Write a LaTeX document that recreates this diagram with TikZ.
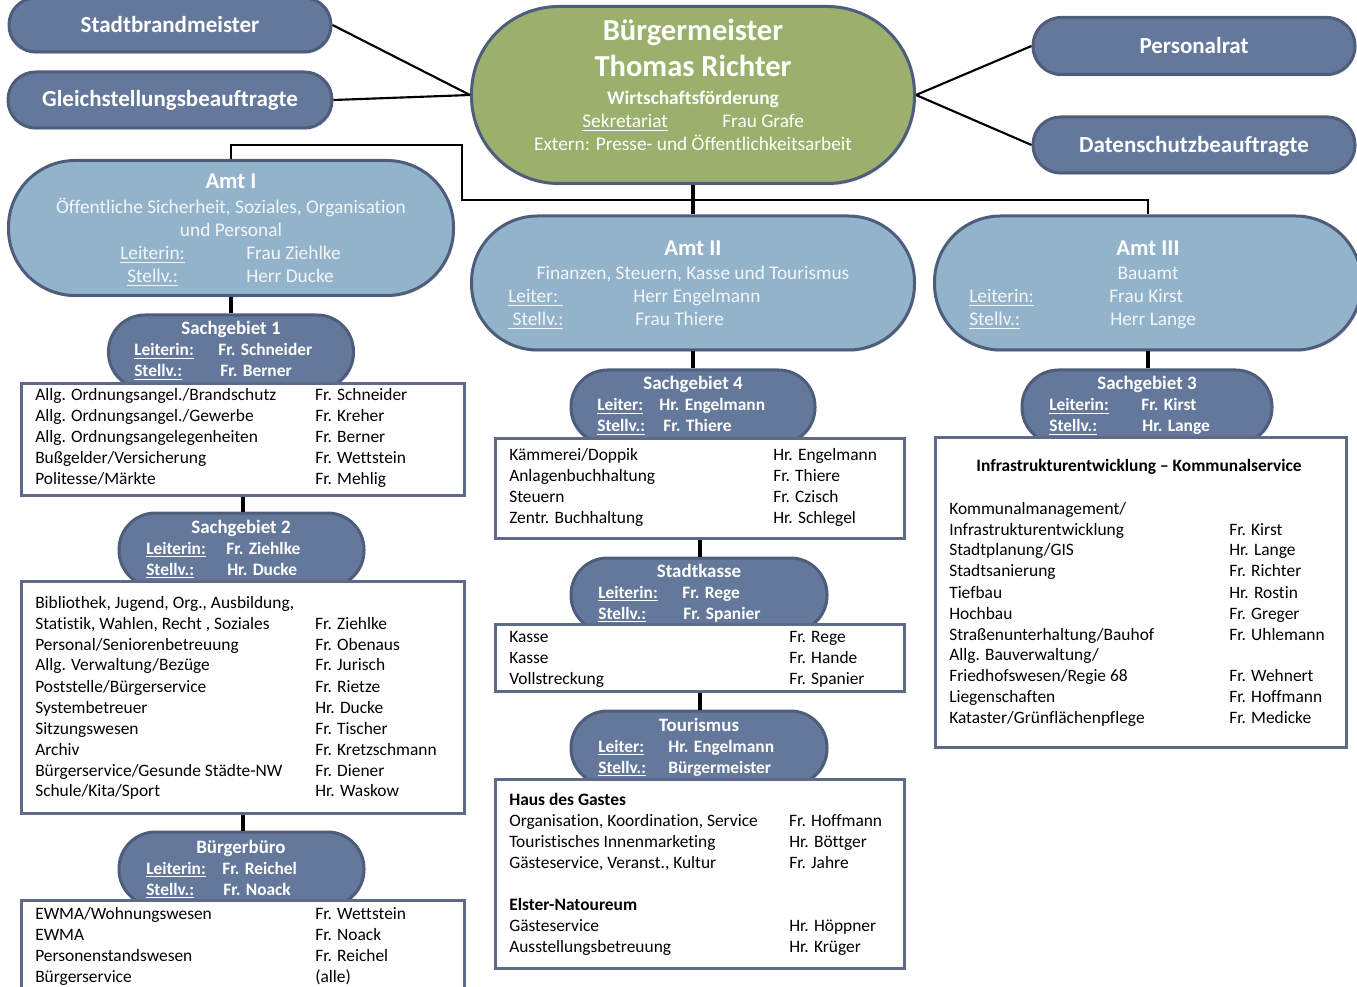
\documentclass[tikz,border=0pt]{standalone}
\usepackage{fontspec}
\setmainfont{Carlito}[Ligatures=NoCommon]
\usetikzlibrary{shadows}
\definecolor{darkfill}{HTML}{64789B}
\definecolor{darkline}{HTML}{4E5D7C}
\definecolor{lightfill}{HTML}{93B3CB}
\definecolor{greenfill}{HTML}{9BB06C}
\definecolor{boxline}{HTML}{5E6A88}
\definecolor{paletext}{HTML}{F2F6F9}
\newcommand\fbody{\fontsize{13.05}{15.75}\selectfont}
\newcommand\fsub{\fontsize{14.5}{17.25}\selectfont}
\newcommand\famt{\fontsize{17}{20}\selectfont\bfseries}
\newcommand\ftop{\fontsize{17.25}{20}\selectfont\bfseries}
\newcommand\fbm{\fontsize{22.9}{27}\selectfont\bfseries}
\newlength\colw
\newcommand\rw[2]{\makebox[\colw][l]{#1}#2}
\newcommand\pill[6]{\node[#6, minimum width=#4*0.75pt, minimum height=#5*0.75pt, rounded corners=#5*0.37pt] (#1) at (#2,#3) {};}
\newcommand\lbox[5]{\node[listbox, minimum width=(#4-#2)*0.75pt, minimum height=(#5-#3)*0.75pt] (#1) at (#2,#3) {};}
\tikzset{
 pillbase/.style={draw=darkline, line width=2.25pt, inner sep=0pt, drop shadow={opacity=0.22, shadow xshift=1pt, shadow yshift=-1.5pt}},
 darkpill/.style={pillbase, fill=darkfill},
 lightpill/.style={pillbase, fill=lightfill},
 greenpill/.style={pillbase, fill=greenfill},
 listbox/.style={draw=boxline, line width=2.25pt, fill=white, inner sep=0pt, anchor=north west},
 conn/.style={line width=2.4pt, black},
 thinconn/.style={line width=1.6pt, black},
 txt/.style={inner sep=0pt, anchor=base west},
 ctxt/.style={inner sep=0pt, anchor=base},
 wt/.style={text=white},
 pt/.style={text=paletext},
 sgt/.style={text=white, font=\fbody\bfseries},
 sgh/.style={text=white, font=\fontsize{14.2}{17}\selectfont\bfseries},
 bt/.style={text=black, font=\fbody},
}
\begin{document}
\begin{tikzpicture}[x=0.75pt,y=-0.75pt]
\useasboundingbox (0,0) rectangle (1357,987);
\clip (0,0) rectangle (1357,987);

% ---- top level pills
\pill{stadt}{170}{25}{322}{54}{darkpill}
\pill{gleich}{170}{100}{324}{56}{darkpill}
\pill{bm}{693}{95}{443}{177}{greenpill}
\pill{personal}{1194}{46}{322}{57}{darkpill}
\pill{daten}{1194}{145}{322}{56}{darkpill}
\node[ctxt, wt, font=\ftop] (stadtT) at (170,33) {Stadtbrandmeister};
\node[ctxt, wt, font=\ftop] (gleichT) at (170,107) {Gleichstellungsbeauftragte};
\node[ctxt, wt, font=\ftop] (personalT) at (1194,54) {Personalrat};
\node[ctxt, wt, font=\ftop] (datenT) at (1194,153) {Datenschutzbeauftragte};

\node[ctxt, wt, font=\fbm] (bmA) at (693,41) {Bürgermeister};
\node[ctxt, wt, font=\fbm] (bmB) at (693,77) {Thomas Richter};
\node[ctxt, wt, font=\fsub\bfseries] (bmC) at (693,105) {Wirtschaftsförderung};
\node[txt, wt, font=\fsub] (bmD) at (582,128) {\underline{Sekretariat}};
\node[txt, wt, font=\fsub] (bmE) at (722,128) {Frau Grafe};
\node[ctxt, wt, font=\fsub] (bmF) at (693,151) {Extern: Presse- und Öffentlichkeitsarbeit};

% ---- Amt pills
\pill{amt1}{231}{228}{445}{135}{lightpill}
\pill{amt2}{693}{283}{443}{134}{lightpill}
\pill{amt3}{1148}{283}{427}{134}{lightpill}

\node[ctxt, wt, font=\famt] (a1A) at (231,189) {Amt I};
\node[ctxt, pt, font=\fsub] (a1B) at (231,214) {Öffentliche Sicherheit, Soziales, Organisation};
\node[ctxt, pt, font=\fsub] (a1C) at (231,237) {und Personal};
\node[txt, pt, font=\fsub] (a1D) at (120,260) {\underline{Leiterin:}};
\node[txt, pt, font=\fsub] (a1E) at (246,260) {Frau Ziehlke};
\node[txt, pt, font=\fsub] (a1F) at (127,283) {\underline{Stellv.:}};
\node[txt, pt, font=\fsub] (a1G) at (246,283) {Herr Ducke};

\node[ctxt, wt, font=\famt] (a2A) at (693,256) {Amt II};
\node[ctxt, pt, font=\fsub] (a2B) at (693,280) {Finanzen, Steuern, Kasse und Tourismus};
\node[txt, pt, font=\fsub] (a2C) at (508,303) {\underline{Leiter:\ }};
\node[txt, pt, font=\fsub] (a2D) at (633,303) {Herr Engelmann};
\node[txt, pt, font=\fsub] (a2E) at (508,326) {\underline{\ Stellv.:}};
\node[txt, pt, font=\fsub] (a2F) at (635,326) {Frau Thiere};

\node[ctxt, wt, font=\famt] (a3A) at (1148,256) {Amt III};
\node[ctxt, pt, font=\fsub] (a3B) at (1148,280) {Bauamt};
\node[txt, pt, font=\fsub] (a3C) at (969,303) {\underline{Leiterin:}};
\node[txt, pt, font=\fsub] (a3D) at (1109,303) {Frau Kirst};
\node[txt, pt, font=\fsub] (a3E) at (969,326) {\underline{Stellv.:}};
\node[txt, pt, font=\fsub] (a3F) at (1110,326) {Herr Lange};

% ---- Sachgebiet pills
\pill{sg1}{231}{352}{245}{74}{darkpill}
\node[ctxt, sgh] (sg1A) at (231,335) {Sachgebiet 1};
\node[txt, sgt] (sg1B) at (134,356) {\underline{Leiterin:}};
\node[txt, sgt] (sg1C) at (218,356) {Fr. Schneider};
\node[txt, sgt] (sg1D) at (134,377) {\underline{Stellv.:}};
\node[txt, sgt] (sg1E) at (220,377) {Fr. Berner};

\pill{sg4}{693}{407}{244}{74}{darkpill}
\node[ctxt, sgh] (sg4A) at (693,390) {Sachgebiet 4};
\node[txt, sgt] (sg4B) at (597,411) {\underline{Leiter:}};
\node[txt, sgt] (sg4C) at (659,411) {Hr. Engelmann};
\node[txt, sgt] (sg4D) at (597,432) {\underline{Stellv.:}};
\node[txt, sgt] (sg4E) at (663,432) {Fr. Thiere};

\pill{sg3}{1147}{407}{250}{74}{darkpill}
\node[ctxt, sgh] (sg3A) at (1147,390) {Sachgebiet 3};
\node[txt, sgt] (sg3B) at (1049,411) {\underline{Leiterin:}};
\node[txt, sgt] (sg3C) at (1141,411) {Fr. Kirst};
\node[txt, sgt] (sg3D) at (1049,432) {\underline{Stellv.:}};
\node[txt, sgt] (sg3E) at (1142,432) {Hr. Lange};

% ---- boxes row 1
\lbox{b1}{20}{382}{463}{494}
\node[txt, bt] (b1T) at (35,401) {\setlength\colw{210pt}\begin{tabular}[t]{@{}l@{}}
\rw{Allg. Ordnungsangel./Brandschutz}{Fr. Schneider}\\
\rw{Allg. Ordnungsangel./Gewerbe}{Fr. Kreher}\\
\rw{Allg. Ordnungsangelegenheiten}{Fr. Berner}\\
\rw{Bußgelder/Versicherung}{Fr. Wettstein}\\
\rw{Politesse/Märkte}{Fr. Mehlig}
\end{tabular}};

\lbox{b4}{494}{437}{903}{537}
\node[txt, bt] (b4T) at (509,461) {\setlength\colw{198pt}\begin{tabular}[t]{@{}l@{}}
\rw{Kämmerei/Doppik}{Hr. Engelmann}\\
\rw{Anlagenbuchhaltung}{Fr. Thiere}\\
\rw{Steuern}{Fr. Czisch}\\
\rw{Zentr. Buchhaltung}{Hr. Schlegel}
\end{tabular}};

\lbox{b7}{934}{436}{1345}{746}
\node[ctxt, bt, font=\fbody\bfseries] (b7H) at (1139,472) {Infrastrukturentwicklung -- Kommunalservice};
\node[txt, bt] (b7T) at (949,514) {\setlength\colw{210pt}\begin{tabular}[t]{@{}l@{}}
\rw{Kommunalmanagement/}{}\\
\rw{Infrastrukturentwicklung}{Fr. Kirst}\\
\rw{Stadtplanung/GIS}{Hr. Lange}\\
\rw{Stadtsanierung}{Fr. Richter}\\
\rw{Tiefbau}{Hr. Rostin}\\
\rw{Hochbau}{Fr. Greger}\\
\rw{Straßenunterhaltung/Bauhof}{Fr. Uhlemann}\\
\rw{Allg. Bauverwaltung/}{}\\
\rw{Friedhofswesen/Regie 68}{Fr. Wehnert}\\
\rw{Liegenschaften}{Fr. Hoffmann}\\
\rw{Kataster/Grünflächenpflege}{Fr. Medicke}
\end{tabular}};

% ---- Sachgebiet 2 and Stadtkasse
\pill{sg2}{241.5}{550}{245}{74}{darkpill}
\node[ctxt, sgh] (sg2A) at (241,533) {Sachgebiet 2};
\node[txt, sgt] (sg2B) at (146,554) {\underline{Leiterin:}};
\node[txt, sgt] (sg2C) at (226,554) {Fr. Ziehlke};
\node[txt, sgt] (sg2D) at (146,575) {\underline{Stellv.:}};
\node[txt, sgt] (sg2E) at (227,575) {Hr. Ducke};

\pill{sk}{699}{595}{256}{74}{darkpill}
\node[ctxt, sgh] (skA) at (699,577) {Stadtkasse};
\node[txt, sgt] (skB) at (598,598) {\underline{Leiterin:}};
\node[txt, sgt] (skC) at (682,598) {Fr. Rege};
\node[txt, sgt] (skD) at (598,619) {\underline{Stellv.:}};
\node[txt, sgt] (skE) at (683,619) {Fr. Spanier};

\lbox{b2}{20}{580}{463}{812}
\node[txt, bt] (b2T) at (35,608) {\setlength\colw{210pt}\begin{tabular}[t]{@{}l@{}}
\rw{Bibliothek, Jugend, Org., Ausbildung,}{}\\
\rw{Statistik, Wahlen, Recht , Soziales}{Fr. Ziehlke}\\
\rw{Personal/Seniorenbetreuung}{Fr. Obenaus}\\
\rw{Allg. Verwaltung/Bezüge}{Fr. Jurisch}\\
\rw{Poststelle/Bürgerservice}{Fr. Rietze}\\
\rw{Systembetreuer}{Hr. Ducke}\\
\rw{Sitzungswesen}{Fr. Tischer}\\
\rw{Archiv}{Fr. Kretzschmann}\\
\rw{Bürgerservice/Gesunde Städte-NW}{Fr. Diener}\\
\rw{Schule/Kita/Sport}{Hr. Waskow}
\end{tabular}};

\lbox{b5}{494}{623}{903}{690}
\node[txt, bt] (b5T) at (509,642) {\setlength\colw{210pt}\begin{tabular}[t]{@{}l@{}}
\rw{Kasse}{Fr. Rege}\\
\rw{Kasse}{Fr. Hande}\\
\rw{Vollstreckung}{Fr. Spanier}
\end{tabular}};

% ---- Tourismus and Buergerbuero
\pill{tour}{699}{748}{256}{74}{darkpill}
\node[ctxt, sgh] (tourA) at (699,731) {Tourismus};
\node[txt, sgt] (tourB) at (598,752) {\underline{Leiter:}};
\node[txt, sgt] (tourC) at (668,752) {Hr. Engelmann};
\node[txt, sgt] (tourD) at (598,773) {\underline{Stellv.:}};
\node[txt, sgt] (tourE) at (668,773) {Bürgermeister};

\lbox{b6}{494}{778}{903}{967}
\node[txt, bt] (b6T) at (509,805) {\setlength\colw{210pt}\begin{tabular}[t]{@{}l@{}}
\textbf{Haus des Gastes}\\
\rw{Organisation, Koordination, Service}{Fr. Hoffmann}\\
\rw{Touristisches Innenmarketing}{Hr. Böttger}\\
\rw{Gästeservice, Veranst., Kultur}{Fr. Jahre}\\
\\
\textbf{Elster-Natoureum}\\
\rw{Gästeservice}{Hr. Höppner}\\
\rw{Ausstellungsbetreuung}{Hr. Krüger}
\end{tabular}};

\pill{bb}{241.5}{869}{245}{74}{darkpill}
\node[ctxt, sgh] (bbA) at (241,853) {Bürgerbüro};
\node[txt, sgt] (bbB) at (146,874) {\underline{Leiterin:}};
\node[txt, sgt] (bbC) at (222,874) {Fr. Reichel};
\node[txt, sgt] (bbD) at (146,895) {\underline{Stellv.:}};
\node[txt, sgt] (bbE) at (223,895) {Fr. Noack};

\lbox{b3}{20}{899}{463}{1005}
\node[txt, bt] (b3T) at (35,919) {\setlength\colw{210pt}\begin{tabular}[t]{@{}l@{}}
\rw{EWMA/Wohnungswesen}{Fr. Wettstein}\\
\rw{EWMA}{Fr. Noack}\\
\rw{Personenstandswesen}{Fr. Reichel}\\
\rw{Bürgerservice}{(alle)}
\end{tabular}};

% ---- connectors
\draw[thinconn] (stadt.east) -- (bm.west);
\draw[thinconn] (gleich.east) -- (bm.west);
\draw[thinconn] (bm.east) -- (personal.west);
\draw[thinconn] (bm.east) -- (daten.west);
\coordinate (j1) at (462,145);
\coordinate (j2) at (462,200);
\draw[thinconn] (amt1.north) |- (j1) -- (j2) -| (amt3.north);
\draw[conn] (bm.south) -- (amt2.north);
\draw[conn] (amt1.south) -- (sg1.north);
\draw[conn] (b1.south) -- (b1.south |- sg2.north);
\draw[conn] (b2.south) -- (b2.south |- bb.north);
\draw[conn] (amt2.south) -- (sg4.north);
\draw[conn] (b4.south) -- (b4.south |- sk.north);
\draw[conn] (b5.south) -- (b5.south |- tour.north);
\draw[conn] (amt3.south) -- (amt3.south |- sg3.north);
\end{tikzpicture}
\end{document}
